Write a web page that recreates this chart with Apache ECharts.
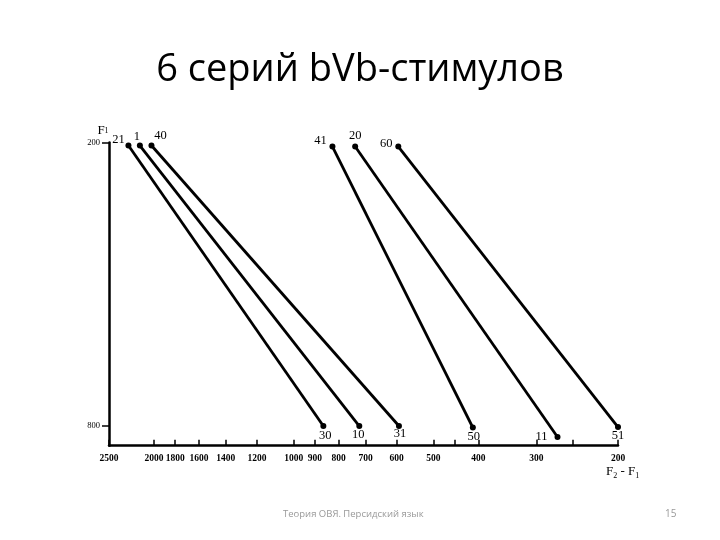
<!DOCTYPE html>
<html><head><meta charset="utf-8">
<script src="https://cdn.jsdelivr.net/npm/echarts@6/dist/echarts.min.js"></script>
<style>html,body{margin:0;padding:0;background:#fff}#c{width:720px;height:540px}</style>
</head><body><div id="c"></div>
<script>
// Series names (start stimulus -> end stimulus)
const startNames = ['21', '1', '40', '41', '20', '60'];
const endNames   = ['30', '10', '31', '50', '11', '51'];
// F2 - F1 (Hz) at start and end of each series
const startF2F1 = [2270, 2145, 2025, 825, 737, 595];
const endF2F1   = [863, 722, 593, 411, 270, 200];
// F1 (Hz) at start and end
const startF1 = [203, 203, 203, 204, 204, 204];
const endF1   = [801, 801, 801, 807, 845, 805];
// Axis tick labels
const xTickLabels = [2500, 2000, 1800, 1600, 1400, 1200, 1000, 900, 800, 700, 600, 500, 400, 300, 200];
const xExtraTicks = [450, 250];
const yTickLabels = [200, 800];

// label placement (styling only)
const startLabelOffset = [[-10,-6],[-3,-9],[9,-10],[-12,-6],[0,-11],[-12,-3]];
const endLabelOffset   = [[2,10],[-1,9],[1,8],[1,9],[-16,0],[0,9]];

const serif = '"Liberation Serif", "DejaVu Serif", serif';
const series = startNames.map((n, i) => ({
  name: n + '-' + endNames[i],
  type: 'line',
  symbol: 'circle',
  symbolSize: 6,
  lineStyle: { color: '#000', width: 2.8 },
  itemStyle: { color: '#000' },
  emphasis: { disabled: true },
  data: [
    { value: [startF2F1[i], startF1[i]], label: { show: true, formatter: n, offset: startLabelOffset[i] } },
    { value: [endF2F1[i], endF1[i]], label: { show: true, formatter: endNames[i], offset: endLabelOffset[i] } }
  ],
  label: { position: 'inside', color: '#000', fontFamily: serif, fontSize: 12.5 }
}));

const chart = echarts.init(document.getElementById('c'));
chart.setOption({
  animation: false,
  title: {
    text: '6 серий bVb-стимулов',
    left: 'center', top: 46,
    textStyle: { fontFamily: '"Open Sans", "Noto Sans", sans-serif', fontWeight: 'normal', fontSize: 38, color: '#000' }
  },
  grid: { left: 109, right: 102, top: 142.5, bottom: 94.3 },
  xAxis: {
    type: 'log', inverse: true, min: 200, max: 2500,
    splitLine: { show: false },
    axisLine: { lineStyle: { color: '#000', width: 2.5 } },
    axisTick: { inside: true, length: 6, lineStyle: { color: '#000', width: 1.5 }, customValues: xTickLabels.concat(xExtraTicks) },
    minorTick: { show: false },
    axisLabel: { customValues: xTickLabels, formatter: v => String(Math.round(v)), color: '#000', fontFamily: serif, fontSize: 9.5, fontWeight: 'bold', margin: 8, showMinLabel: true, showMaxLabel: true },
    name: '{b|F}{s|2}{b| - F}{s|1}',
    nameLocation: 'start', nameGap: -12,
    nameTextStyle: { verticalAlign: 'top', padding: [18, 0, 0, 0], rich: { b: { fontFamily: serif, fontSize: 13, color: '#000' }, s: { fontFamily: serif, fontSize: 8, color: '#000', verticalAlign: 'bottom', padding: [8,0,0,0] } } }
  },
  yAxis: {
    type: 'log', inverse: true, min: 200, max: 882,
    splitLine: { show: false },
    axisLine: { lineStyle: { color: '#000', width: 2.5 } },
    axisTick: { length: 7, lineStyle: { color: '#000', width: 1.5 }, customValues: yTickLabels },
    minorTick: { show: false },
    axisLabel: { customValues: yTickLabels, formatter: v => String(Math.round(v)), color: '#000', fontFamily: serif, fontSize: 8.5, margin: 9 },
    name: '{b|F}{s|1}',
    nameLocation: 'start', nameGap: 5,
    nameTextStyle: { align: 'center', padding: [0, 12, 0, 0], rich: { b: { fontFamily: serif, fontSize: 13, color: '#000' }, s: { fontFamily: serif, fontSize: 8, color: '#000' } } }
  },
  graphic: [
    { type: 'text', left: 283, top: 509, style: { text: 'Теория ОВЯ. Персидский язык', fontFamily: '"Open Sans", sans-serif', fontSize: 9.5, fill: '#999' } },
    { type: 'text', left: 665, top: 509, style: { text: '15', fontFamily: '"Open Sans", sans-serif', fontSize: 10, fill: '#999' } }
  ],
  series: series
});
</script>
</body></html>
